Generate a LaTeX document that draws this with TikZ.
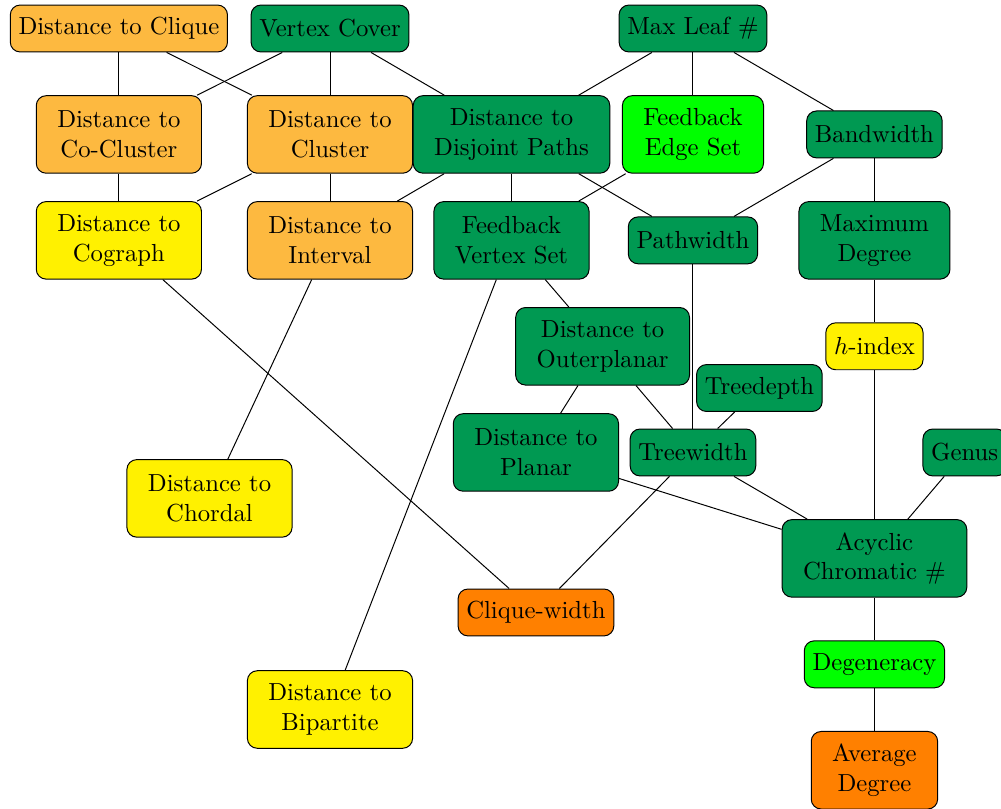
\documentclass[tikz,border=0pt]{standalone}
\usepackage[dvipsnames]{xcolor}
\definecolor{paramgreen}{RGB}{0,153,82}
\definecolor{paramlime}{RGB}{0,255,0}
\definecolor{paramyellow}{RGB}{255,241,0}
\definecolor{paramamber}{RGB}{253,185,64}
\definecolor{paramorange}{RGB}{255,128,0}

\begin{document}
\begin{tikzpicture}[-,x=0.405pt,y=-0.405pt,node distance=42.9pt,
    box/.style={rectangle,rounded corners,draw,minimum height=19pt,font=\normalsize},
    two line/.style={box,align=center,inner xsep=8.5pt,minimum height=31.4pt}]

            \useasboundingbox (0,0) rectangle (1001,808);

            \node[box, fill=paramgreen] (vc) at (330,28.5) {Vertex Cover};
            \node[box, fill=paramamber] (cliq) [node distance=85.5pt, left of = vc] {Distance to Clique};
            \node[two line, fill=paramamber] (clus) [below of = vc] {Distance to\\Cluster};
            \node[two line, fill=paramamber] (cocl) [below of = cliq] {Distance to\\Co-Cluster};
            \node[two line, fill=paramgreen] (dp) [node distance=73.5pt, right of = clus] {Distance to\\Disjoint Paths};
            \node[two line, fill=paramlime] (fes) [node distance=73.5pt, right of = dp] {Feedback\\Edge Set};
            \node[box, fill=paramgreen] (ml) [above of = fes] {Max Leaf \#};
            \node[box, fill=paramgreen] (bw) [node distance=73.5pt, right of = fes] {Bandwidth};
            \node[two line, fill=paramyellow] (cog) [below of = cocl] {Distance to\\Cograph};
            \node[two line, fill=paramamber] (int) [below of = clus] {Distance to\\Interval};
            \node[two line, fill=paramgreen] (fvs) [below of = dp] {Feedback\\Vertex Set};
            \node[box, fill=paramgreen] (pw) [below of = fes] {Pathwidth};
            \node[two line, fill=paramgreen] (md) [below of = bw] {Maximum\\Degree};
            \node[box, fill=paramyellow] (hi) [below of = md] {$h$-index};
            \node[two line, fill=paramgreen] (op) [below of = fvs, xshift=36.9pt] {Distance to\\Outerplanar};
            \node[box, fill=paramgreen] (tw) [node distance=85.9pt, below of = pw] {Treewidth};
            \node[box, fill=paramgreen] (td) [node distance=26.1pt, above of = tw, xshift=26.9pt] {Treedepth};
            \node[two line, fill=paramgreen] (pl) [node distance=63.6pt, left of = tw] {Distance to\\Planar};
            \node[box, fill=paramgreen] (gen) [node distance=110pt, right of = tw] {Genus};
            \node[two line, fill=paramyellow] (cho) [node distance=104.5pt, below of = cog, xshift=36.7pt] {Distance to\\Chordal};
            \node[two line, fill=paramgreen] (acn) [node distance=85.9pt, below of = hi] {Acyclic\\Chromatic \#};
            \node[box, fill=paramlime] (deg) [below of = acn] {Degeneracy};
            \node[two line, fill=paramorange] (ad) [below of = deg] {Average\\Degree};
            \node[box, fill=paramorange] (cw) [node distance=64.8pt, below of = pl] {Clique-width};
            \node[two line, fill=paramyellow] (bip) [node distance=190pt, below of = int] {Distance to\\Bipartite};

            \draw[-] (cliq) to (cocl);
            \draw[-] (cliq) to (clus);
            \draw[-] (vc) to (cocl);
            \draw[-] (vc) to (clus);
            \draw[-] (vc) to (dp);
            \draw[-] (ml) to (dp);
            \draw[-] (ml) to (fes);
            \draw[-] (ml) to (bw);
            \draw[-] (cocl) to (cog);
            \draw[-] (clus) to (cog);
            \draw[-] (clus) to (int);
            \draw[-] (dp) to (int);
            \draw[-] (dp) to (fvs);
            \draw[-] (dp) to (pw);
            \draw[-] (fes) to (fvs);
            \draw[-] (bw) to (pw);
            \draw[-] (bw) to (md);
            \draw[-] (cog) to (cw);
            \draw[-] (int) to (cho);
            \draw[-] (fvs) to (op);
            \draw[-] (fvs) to (bip);
            \draw[-] (pw) to (tw);
            \draw[-] (md) to (hi);
            \draw[-] (hi) to (acn);
            \draw[-] (op) to (pl);
            \draw[-] (op) to (tw);
            \draw[-] (td) to (tw);
            \draw[-] (pl) to (acn);
            \draw[-] (tw) to (acn);
            \draw[-] (tw) to (cw);
            \draw[-] (gen) to (acn);
            \draw[-] (acn) to (deg);
            \draw[-] (deg) to (ad);

        \end{tikzpicture}
\end{document}
